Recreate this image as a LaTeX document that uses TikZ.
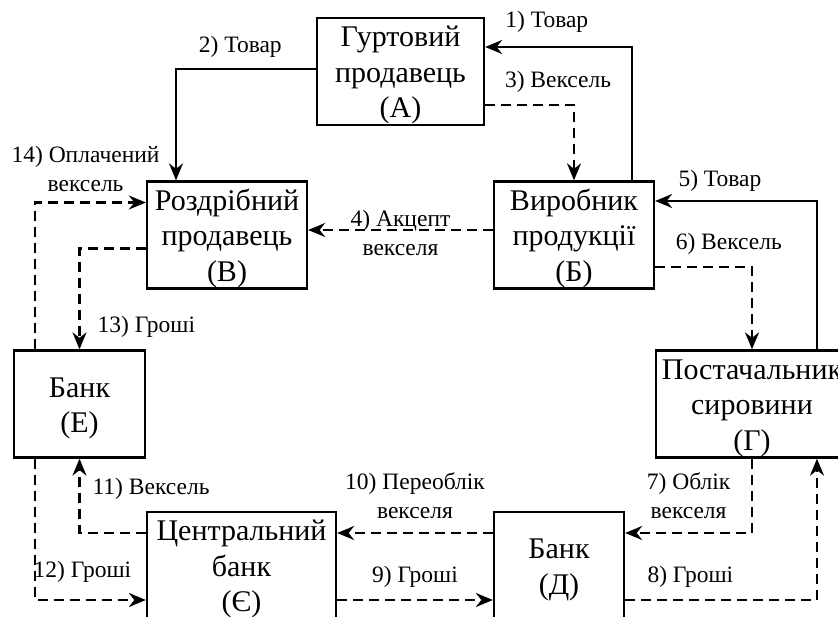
\documentclass[tikz,border=0pt]{standalone}
\usepackage{fontspec}
\setmainfont{Liberation Serif}
\usetikzlibrary{arrows.meta}

\newcommand{\unitlift}{\rule{0pt}{28pt}}
\tikzset{
  unit/.style={draw, line width=2.3pt, minimum height=107pt, inner xsep=2pt, inner ysep=0.5pt,
    align=center, font=\fontsize{30}{35.5}\selectfont},
  lbl/.style={font=\fontsize{23.5}{29}\selectfont, inner sep=1pt, align=center},
  flow/.style={line width=2.2pt, -{Stealth[length=17pt,width=14pt,inset=5.5pt]}},
  paper/.style={flow, dash pattern=on 10pt off 6pt}
}

\begin{document}
\begin{tikzpicture}[x=1pt, y=-1pt]
\useasboundingbox (0,0) rectangle (838,617);
\clip (0,0) rectangle (838,617);
\node[unit, minimum width=167pt] (gurt) at (400.5,71.5) {\unitlift Гуртовий\\продавець\\(А)};
\node[unit, minimum width=160pt] (rozd) at (227,235) {\unitlift Роздрібний\\продавець\\(В)};
\node[unit, minimum width=160pt] (vyr) at (574,235) {\unitlift Виробник\\продукції\\(Б)};
\node[unit, minimum width=131pt] (bankE) at (79.5,404) {\unitlift Банк\\(Е)};
\node[unit, minimum width=192pt] (post) at (752,404) {\unitlift Постачальник\\сировини\\(Г)};
\node[unit, minimum width=189pt] (centr) at (241.5,565.5) {\unitlift Центральний\\банк\\(Є)};
\node[unit, minimum width=130pt] (bankD) at (559,565.5) {\unitlift Банк\\(Д)};

\draw[flow] ([xshift=58pt]vyr.north) |- node[lbl, pos=0.79, above=12pt] (t1) {1) Товар} ([yshift=24.5pt]gurt.east);
\draw[flow] ([yshift=2.5pt]gurt.west) -| node[lbl, pos=0.27, above=9pt] (t2) {2) Товар} ([xshift=-51pt]rozd.north);
\draw[paper] ([yshift=-33.5pt]gurt.east) -| node[lbl, pos=0.41, above=10pt] (t3) {3) Вексель} (vyr.north);
\draw[paper] ([yshift=5pt]vyr.west) -- node[lbl, midway, yshift=-3pt] (t4) {4) Акцепт\\векселя} ([yshift=5pt]rozd.east);
\draw[flow] ([xshift=65pt]post.north) |- node[lbl, pos=0.80, above=7pt] (t5) {5) Товар} ([yshift=34pt]vyr.east);
\draw[paper] ([yshift=-32pt]vyr.east) -| node[lbl, pos=0.38, above=10pt] (t6) {6) Вексель} (post.north);
\draw[paper] (post.south) |- node[lbl, pos=0.75, above=12pt] (t7) {7) Облік\\векселя} ([yshift=32.5pt]bankD.east);
\draw[paper] ([yshift=-34.5pt]bankD.east) -| node[lbl, pos=0.17, above=10pt] (t8) {8) Гроші} ([xshift=65pt]post.south);
\draw[paper] ([yshift=-34.5pt]centr.east) -- node[lbl, midway, above=10pt] (t9) {9) Гроші} ([yshift=-34.5pt]bankD.west);
\draw[paper] ([yshift=32.5pt]bankD.west) -- node[lbl, midway, above=12pt] (t10) {10) Переоблік\\векселя} ([yshift=32.5pt]centr.east);
\draw[paper] ([yshift=32.5pt]centr.west) -| node[lbl, pos=0.80, right=11pt] (t11) {11) Вексель} (bankE.south);
\draw[paper] ([xshift=-44.5pt]bankE.south) |- node[lbl, pos=0.714, above=15pt] (t12) {12) Гроші} ([yshift=-34.5pt]centr.west);
\draw[paper] ([yshift=-13.5pt]rozd.west) -| node[lbl, pos=0.89, right=16pt] (t13) {13) Гроші} (bankE.north);
\draw[paper] ([xshift=-44.5pt]bankE.north) |- node[lbl, pos=0.728, above=9pt] (t14) {14) Оплачений\\вексель} ([yshift=32.5pt]rozd.west);
\end{tikzpicture}
\end{document}
